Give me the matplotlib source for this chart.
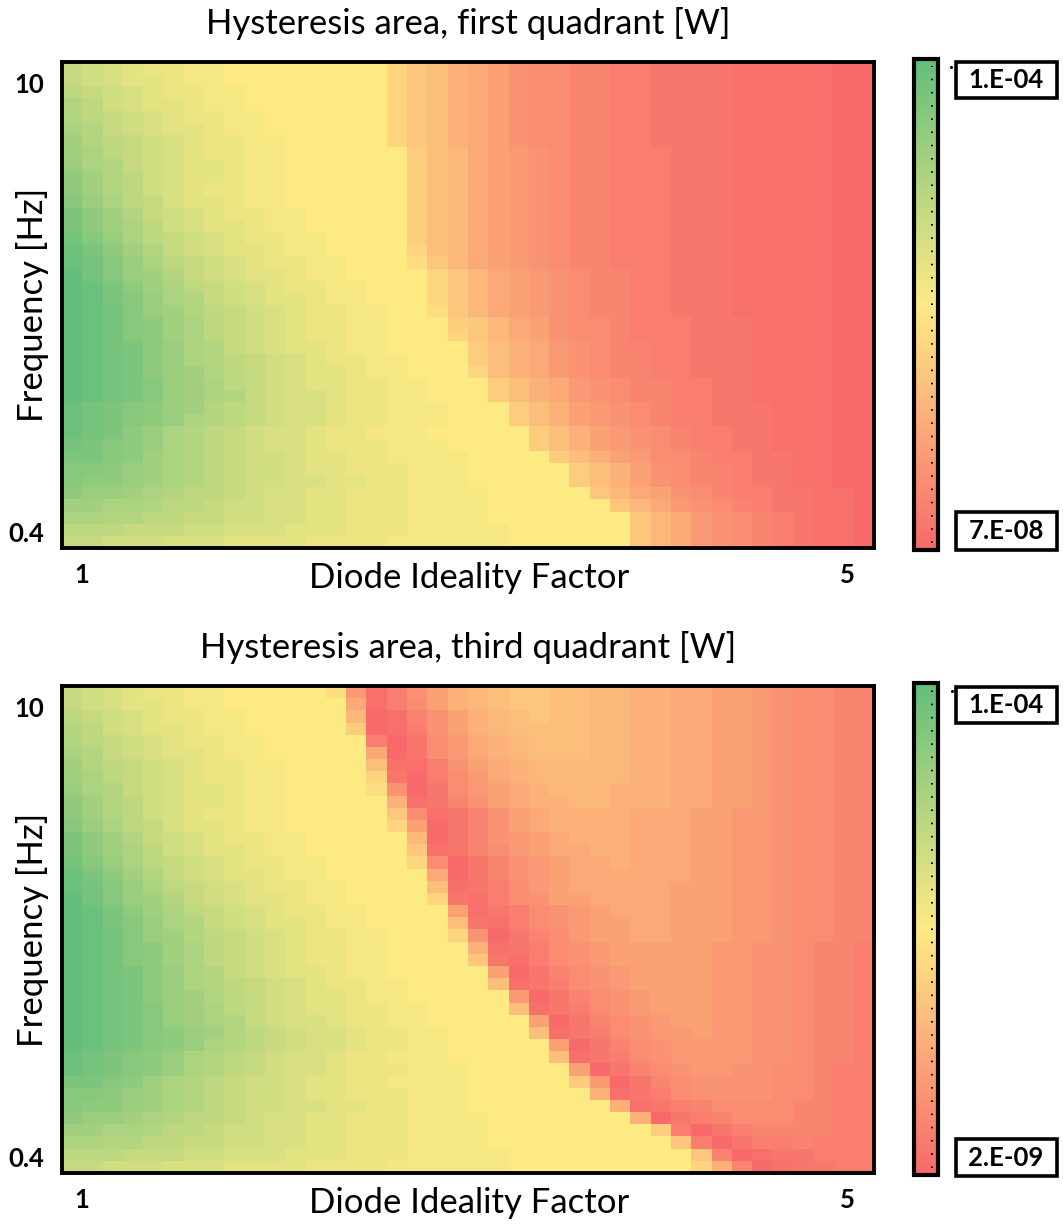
import numpy as np
import matplotlib
matplotlib.use("Agg")
import matplotlib.pyplot as plt
from matplotlib.colors import LinearSegmentedColormap, TwoSlopeNorm
from matplotlib.lines import Line2D
from matplotlib.patches import Rectangle

plt.rcParams['font.family'] = ['Lato', 'DejaVu Sans']

# ---------------------------------------------------------------------------
# Data.
# Each cell holds its position on the 3-colour scale (base-36 digit):
#   0 = red (scale minimum), i (=18) = yellow (midpoint), z (=35) = green (maximum)
# One string per frequency row (top = 10 Hz ... bottom = 0.4 Hz),
# one character per diode-ideality-factor column (1 ... 5), 40 x 40 cells.
# ---------------------------------------------------------------------------
first_quadrant_rows = [
    "onmlkkjj" "iiiiiiii" "fdca98655443322221111100",
    "onmllkjj" "iiiiiiii" "fdca98655443322221111100",
    "ponmlkkjj" "iiiiiii" "fdca98655443322221111100",
    "qpnmllkjj" "iiiiiii" "fdca98655443322221111100",
    "qponmlkkjj" "iiiiii" "fdca98655443322221111100",
    "rqonmllkjj" "iiiiii" "fdca98655443322221111100",
    "sqponmlkkjj" "iiiii" "fdca98655443322221111100",
    "srponmlkkjj" "iiiiii" "ecb98765443332221111100",
    "trqonmllkjj" "iiiiii" "ecb98765443332221111100",
    "usqpnmllkjj" "iiiiii" "ecb98765443332221111100",
    "usqpnmlkkjj" "iiiiii" "ecb98765443332221111100",
    "vtrpomllkjj" "iiiiii" "ecb98765443332221111100",
    "wusqonmlkkjj" "iiiii" "ecb98765443332221111100",
    "wusrpnmllkjj" "iiiii" "ecb98765443332221111100",
    "xvtrponmlkkjj" "iiii" "ecb98765443332221111100",
    "ywusqonmllkjj" "iiii" "fcb98765443332221111100",
    "yxvtrponmlkkjj" "iii" "gdb98765443332221111100",
    "zxvtsqonmllkjj" "iiii" "fdb9876544332221111100",
    "zywusrponmlkkjj" "iii" "fdb9876544332221111100",
    "zywvtrqonmllkjj" "iii" "fdb9876544332221111100",
    "zyxvtsqponmlkkjj" "ii" "gdb9876544332221111100",
    "zyxvusrponmlkkjj" "iii" "edb986554333222111100",
    "zyxvusrponmlkkjj" "iii" "fdb986554333222111100",
    "zyxwutrqonmllkjj" "iiii" "eca97654433222111100",
    "zyxwutrqponmlkkjj" "iii" "eca97654433222111100",
    "zyxwutsqponmllkjj" "iii" "fca97654433222111100",
    "zyxwvtsrponmllkkjj" "iii" "eca9765443322111100",
    "zyxwvtsrqonmmlkkjj" "iii" "eca9765443322111100",
    "yxwvutsqponmmlkkjjj" "iii" "eca876543322211100",
    "yxwvutrqponmmlkkjjj" "iii" "eca876543322211100",
    "yxwutrqponmmlkkjjj" "iiiii" "eca87654332211100",
    "xwvutrqponmmlkkkjjj" "iiii" "eca87654332211100",
    "wwvusrqponnmllkkjjjj" "iiii" "eca8755433221100",
    "vvutsrqponnmllkkkjjj" "iiiii" "eca865443221100",
    "vuutsrqponnmmllkkjjj" "iiiii" "eca865443221100",
    "uttsrqpponmmllkkkjjjj" "iiiii" "db986543322110",
    "ssrrqpponnmmllkkkjjjj" "iiiiii" "db97654322110",
    "rrqqppoonnmmllkkkjjjj" "iiiiiii" "db9765432110",
    "pppooonnmmmlllkkkjjjjj" "iiiiii" "db9765432110",
    "oonnnmmmllllkkkkjjjjjj" "iiiiii" "db9765432110",
]

third_quadrant_rows = [
    "onmlkkjj" "iiiii" "g71368abcddccbbaa9988765544",
    "onmllkjj" "iiiiii" "91358abcddccbbaa9988765544",
    "ponmlkkjj" "iiiii" "b01468abcdccbbaa9988765544",
    "qpnmllkjj" "iiiii" "e01368abccccbbaa9988765544",
    "qponmlkkjj" "iiiii" "302579abcccbbaa9988765544",
    "rqonmllkjj" "iiiii" "902579abcccbbaa9988765544",
    "sqponmlkkjj" "iiii" "c113689abbbbbaa9988765544",
    "srponmlkkjj" "iiii" "f203579abbbbbaa9988765544",
    "trqonmllkjj" "iiii" "g6025789abbbaaa9988765544",
    "usqpnmllkjj" "iiiii" "a124689aabbaaa9988765544",
    "usqpnmlkkjj" "iiiii" "d5124689aaaa999887765544",
    "vtrpomllkjj" "iiiii" "f8024689aaaa999887765544",
    "wusqonmlkkjj" "iiiii" "b0246789aaa999887765544",
    "wusrpnmllkjj" "iiiii" "d12457899aa999887765544",
    "xvtrponmlkkjj" "iiii" "f502467899a999887765544",
    "ywusqonmllkjj" "iiiii" "9024678999999887765544",
    "yxvtrponmlkkjj" "iiii" "c123578999998887765544",
    "zxvtsqonmllkjj" "iiii" "f213568899998887765544",
    "zywusrponmlkkjj" "iiii" "812356789998887765544",
    "zywvtrqonmllkjj" "iiii" "c21356788998887765544",
    "zyxvtsqponmlkkjj" "iii" "f60245788998887765544",
    "zyxvusrponmlkkjj" "iiii" "a1235678888877665443",
    "zyxvusrponmlkkjj" "iiii" "d2135678888877665443",
    "zyxwutrqonmllkjj" "iiiii" "8024567888877665443",
    "zyxwutrqponmlkkjj" "iiii" "c123567888877665443",
    "zyxwutsqponmllkjj" "iiiii" "702456788877665443",
    "zyxwvtsrponmllkkjj" "iiii" "c12356788877665443",
    "zyxwvtsrqonmmlkkjj" "iiiii" "80245678877665443",
    "zyxwvutsqponmmlkkjj" "iiii" "c1235677877665443",
    "zyxwvutrqponmmlkkjj" "iiiii" "8024567777665443",
    "yxwvutrqponmmlkkjjj" "iiiii" "c123567777665443",
    "yxwvutrqponmmlkkkjjj" "iiiii" "802456776655433",
    "wwvusrqponnmllkkjjjj" "iiiii" "e70245666655433",
    "vvutsrqponnmllkkkjjj" "iiiiii" "a1235666655433",
    "vuutsrqponnmmllkkjjj" "iiiiiii" "a123455554433",
    "uttsrqpponmmllkkkjjjj" "iiiiiii" "a02345554433",
    "ssrrqpponnmmllkkkjjjj" "iiiiiiii" "e3023444433",
    "rrqqppoonnmmllkkkjjjj" "iiiiiiiii" "d302334333",
    "pppooonnmmmlllkkkjjjjj" "iiiiiiiii" "d40122333",
    "oonnnmmmllllkkkkjjjjjj" "iiiiiiiii" "fa4012233",
]

titles = ["Hysteresis area, first quadrant [W]",
          "Hysteresis area, third quadrant [W]"]
x_label = "Diode Ideality Factor"
y_label = "Frequency [Hz]"
x_tick_labels = ["1", "5"]
y_tick_labels = ["10", "0.4"]
scale_max_labels = ["1.E-04", "1.E-04"]
scale_min_labels = ["7.E-08", "2.E-09"]

# ---------------------------------------------------------------------------
# Layout (pixels of the 1063 x 1224 canvas)
# ---------------------------------------------------------------------------
W, H = 1063, 1224
x_tick_pos = [0.45, 38.2]      # column coordinates of the "1" / "5" labels
y_tick_pos = [1.25, 38.2]      # row coordinates of the "10" / "0.4" labels

GRID_COLOURS = ['#F8696B', '#FFEB84', '#63BE7B']
cmap = LinearSegmentedColormap.from_list('excel3', GRID_COLOURS)
norm = TwoSlopeNorm(vmin=0, vcenter=18, vmax=35)

LABEL_SIZE = 25
TICK_SIZE = 18.5

fig = plt.figure(figsize=(W / 100, H / 100), dpi=100)


def fx(x):
    return x / W


def fy(y):
    return 1 - y / H


panels = [
    dict(rows=first_quadrant_rows, title=titles[0],
         top=62, bottom=548, cb=(59, 550),
         box_hi=(62, 98), box_lo=(512, 550),
         hi=scale_max_labels[0], lo=scale_min_labels[0], dot=(951, 67)),
    dict(rows=third_quadrant_rows, title=titles[1],
         top=686, bottom=1173, cb=(683, 1175),
         box_hi=(687, 723), box_lo=(1139, 1176),
         hi=scale_max_labels[1], lo=scale_min_labels[1], dot=(952, 691)),
]

for p in panels:
    for r in p['rows']:
        assert len(r) == 40, (len(r), r)
    levels = np.array([[int(ch, 36) for ch in r] for r in p['rows']])

    ax = fig.add_axes([fx(62), fy(p['bottom']), (874 - 62) / W,
                       (p['bottom'] - p['top']) / H])
    im = ax.imshow(levels, cmap=cmap, norm=norm, aspect='auto',
                   interpolation='nearest')
    for s in ax.spines.values():
        s.set_linewidth(2.8)
        s.set_color('black')

    ax.set_xticks(x_tick_pos, x_tick_labels, fontsize=TICK_SIZE, fontweight='bold')
    ax.set_yticks(y_tick_pos, y_tick_labels, fontsize=TICK_SIZE, fontweight='bold')
    ax.tick_params(axis='x', length=0, pad=11)
    ax.tick_params(axis='y', length=0, pad=13)

    ax.set_xlabel(x_label, fontsize=LABEL_SIZE)
    ax.xaxis.set_label_coords(0.501, -0.062)
    ax.xaxis.label.set_va('center')
    ax.set_ylabel(y_label, fontsize=LABEL_SIZE)
    ax.yaxis.set_label_coords(-0.036, 0.5)
    ax.yaxis.label.set_va('center')
    ax.set_title(p['title'], fontsize=LABEL_SIZE, y=1.08, va='center', pad=0)

    # colour scale
    cb_top, cb_bot = p['cb']
    cax = fig.add_axes([fx(914), fy(cb_bot), 24 / W, (cb_bot - cb_top) / H])
    cbar = fig.colorbar(im, cax=cax)
    cbar.set_ticks([])
    cbar.minorticks_off()
    cbar.outline.set_linewidth(3)
    cbar.outline.set_edgecolor('black')
    cax.plot([0.75, 0.75], [0.015, 0.985], transform=cax.transAxes,
             color='black', lw=1.4, ls=(0, (0.8, 6.0)))

    for (y0, y1), txt in ((p['box_hi'], p['hi']), (p['box_lo'], p['lo'])):
        fig.patches.append(Rectangle((fx(956), fy(y1)), 101 / W, (y1 - y0) / H,
                                     transform=fig.transFigure, facecolor='white',
                                     edgecolor='black', lw=2.6))
        fig.text(fx(1006), fy((y0 + y1) / 2), txt, ha='center', va='center',
                 fontsize=18.5, fontweight='bold')
    fig.add_artist(Line2D([fx(p['dot'][0])], [fy(p['dot'][1])], marker='o',
                          ms=1.2, color='black', transform=fig.transFigure))

fig.savefig('out.png', dpi=100)
